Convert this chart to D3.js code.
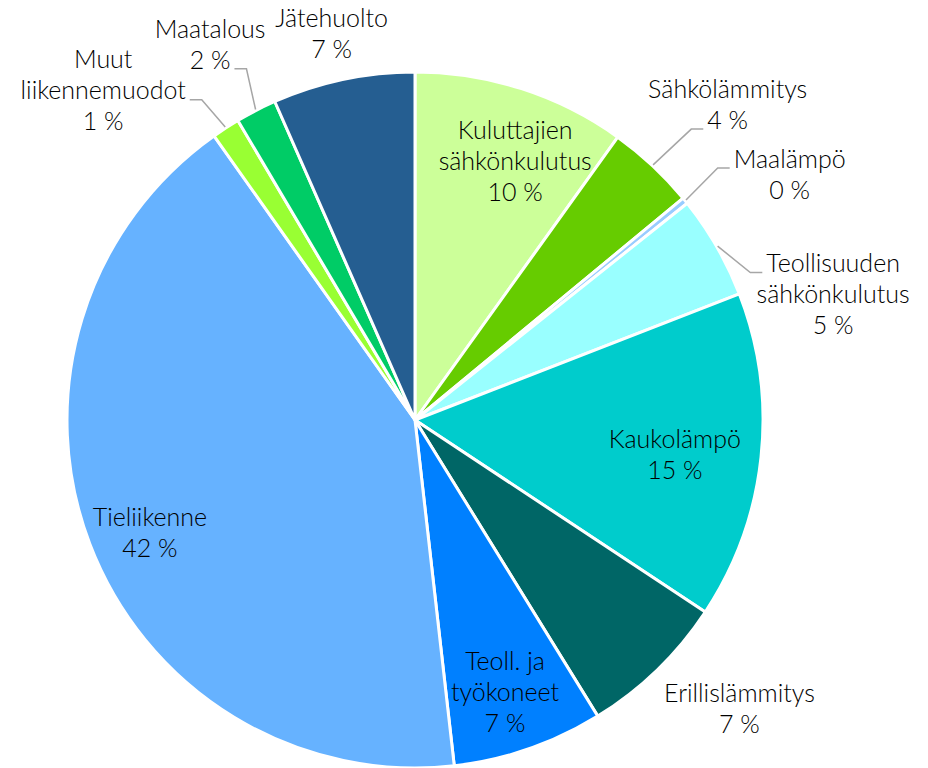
<!DOCTYPE html>
<html>
<head>
<meta charset="utf-8">
<script src="https://cdn.jsdelivr.net/npm/d3@7"></script>
<style>
  html, body { margin: 0; padding: 0; background: #fff; }
  text { font-family: Lato, "Open Sans", sans-serif; font-weight: 300; font-size: 25px; fill: #000; }
</style>
</head>
<body>
<script>
// osuudet (%) myötäpäivään klo 12:sta
var categories = [
	["Kuluttajien", "sähkönkulutus"],
	["Sähkölämmitys"],
	["Maalämpö"],
	["Teollisuuden", "sähkönkulutus"],
	["Kaukolämpö"],
	["Erillislämmitys"],
	["Teoll. ja", "työkoneet"],
	["Tieliikenne"],
	["Muut", "liikennemuodot"],
	["Maatalous"],
	["Jätehuolto"]
];
var values = [9.9, 4.1, 0.3, 4.8, 15.2, 6.9, 7.0, 42.0, 1.3, 1.9, 6.6];
var colors = ["#CCFF99", "#66CC00", "#99CCFF", "#99FFFF", "#00CCCC", "#006666",
	"#0080FF", "#66B2FF", "#99FF33", "#00CC66", "#255E91"];

// label placement: inside / outside, nudge, which line the leader meets
var labelLayout = [
	{out: false, dx: 15, dy: 6},
	{out: true, dx: 23, dy: -5, lead: 1},
	{out: true, dx: 45, dy: 22, lead: 0},
	{out: true, dx: 50, dy: 86, lead: 0},
	{out: false, dx: -17, dy: 5},
	{out: true, dx: 29, dy: -16},
	{out: false, dx: -1, dy: 9},
	{out: false, dx: -5, dy: 14},
	{out: true, dx: -81, dy: 27, lead: 1},
	{out: true, dx: -11, dy: 2, lead: 1},
	{out: true, dx: 4, dy: 29}
];

var width = 928, height = 768;
var cx = 415, cy = 420, radius = 348;
var lineH = 31;

var svg = d3.select("body").append("svg")
	.attr("width", width)
	.attr("height", height);

var g = svg.append("g").attr("transform", "translate(" + cx + "," + cy + ")");

var total = d3.sum(values);
var pie = d3.pie().sort(null).value(function (d) { return d; });
var arcs = pie(values);

var arc = d3.arc().innerRadius(0).outerRadius(radius);
var inArc = d3.arc().innerRadius(radius * 0.8).outerRadius(radius * 0.8);
var outArc = d3.arc().innerRadius(radius * 1.22).outerRadius(radius * 1.22);
var rimArc = d3.arc().innerRadius(radius + 1).outerRadius(radius + 1);

// slices
g.selectAll("path.slice")
	.data(arcs)
	.enter()
	.append("path")
	.attr("class", "slice")
	.attr("d", arc)
	.attr("fill", function (d, i) { return colors[i]; })
	.attr("stroke", "#fff")
	.attr("stroke-width", 3)
	.attr("stroke-linejoin", "round");

// labels
arcs.forEach(function (d, i) {
	var lay = labelLayout[i];
	var base = (lay.out ? outArc : inArc).centroid(d);
	var x = base[0] + lay.dx;
	var y = base[1] + lay.dy;
	var lines = categories[i].concat([Math.round(d.value / total * 100) + " %"]);
	var top = y - (lines.length - 1) * lineH / 2;

	var txt = g.append("text").attr("text-anchor", "middle");
	var spans = lines.map(function (s, k) {
		return txt.append("tspan")
			.attr("x", x)
			.attr("y", top + k * lineH)
			.attr("dy", "0.35em")
			.text(s);
	});

	if (lay.lead !== undefined) {
		var w = spans[lay.lead].node().getComputedTextLength();
		var ly = top + lay.lead * lineH + 9;
		var rim = rimArc.centroid(d);
		var side = rim[0] < x ? -1 : 1;
		var endX = x + side * (w / 2 + 4);
		var elbowX = endX + side * 12;
		g.insert("polyline", "text")
			.attr("points", [rim, [elbowX, ly], [endX, ly]].map(function (p) { return p.join(","); }).join(" "))
			.attr("fill", "none")
			.attr("stroke", "#A6A6A6")
			.attr("stroke-width", 1.5);
	}
});
</script>
</body>
</html>
